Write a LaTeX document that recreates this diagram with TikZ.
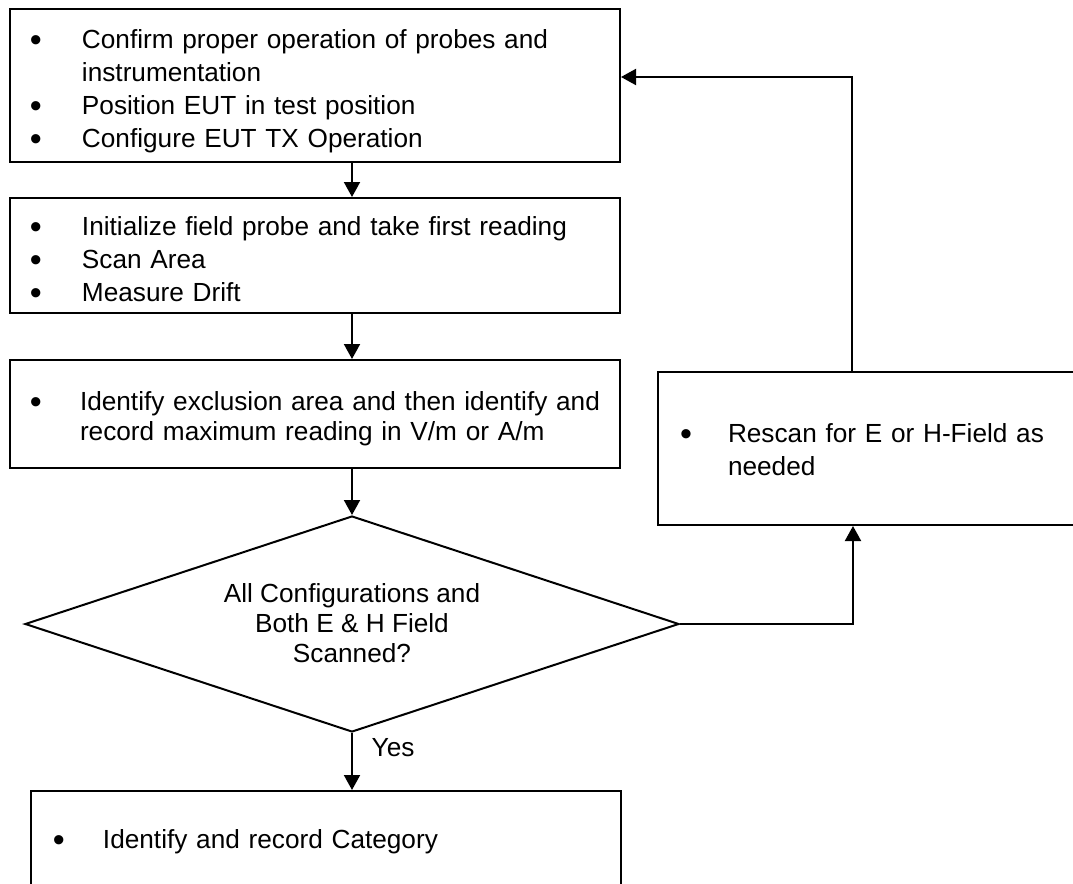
\documentclass[tikz,border=0pt]{standalone}
\usepackage{fontspec}
\setmainfont{Liberation Sans}
\usetikzlibrary{arrows.meta,shapes.geometric,positioning}

\tikzset{
    stepbox/.style={draw, line width=1pt, rectangle, inner ysep=0pt, inner xsep=10pt,
        align=left, font=\fontsize{13.1}{16.5}\selectfont},
    decide/.style={draw, line width=1pt, diamond, aspect=3, inner sep=0pt,
        minimum width=327pt, minimum height=108pt, align=center,
        font=\fontsize{13.1}{15}\selectfont},
    arr/.style={line width=1pt, -{Triangle[length=7.5pt, width=8pt]}},
}

\newcommand{\bl}{\raisebox{-1.6pt}{\scalebox{1.3}{\textbullet}}}
\newcommand{\shiftdown}[2]{\raisebox{-#1}[\height][\depth]{#2}}

\begin{document}
\begin{tikzpicture}[x=0.5pt, y=-0.5pt]
\useasboundingbox (0,0) rectangle (1073,884);
\clip (0,0) rectangle (1073,884);

\node (b1) [stepbox, minimum width=305pt, minimum height=76.5pt, text width=285pt] at (315,85.5)
    {\shiftdown{3pt}{\begin{tabular}{@{}p{26pt}@{}l@{}}
    \bl & Confirm proper operation of probes and\\
        & instrumentation\\
    \bl & Position EUT in test position\\
    \bl & Configure EUT TX Operation
    \end{tabular}}};

\node (b2) [stepbox, minimum width=305pt, minimum height=57.5pt, text width=285pt] at (315,255.5)
    {\shiftdown{3pt}{\begin{tabular}{@{}p{26pt}@{}l@{}}
    \bl & Initialize field probe and take first reading\\
    \bl & Scan Area\\
    \bl & Measure Drift
    \end{tabular}}};

\node (b3) [stepbox, minimum width=305pt, minimum height=54pt, text width=285pt,
    font=\fontsize{13.1}{15}\selectfont] at (315,414)
    {\shiftdown{2.5pt}{\begin{tabular}{@{}p{25pt}@{}l@{}}
    \bl & Identify exclusion area and then identify and\\
        & record maximum reading in V/m or A/m
    \end{tabular}}};

\node (dia) [decide] at (352,624)
    {\shiftdown{1pt}{\begin{tabular}{@{}c@{}}
    All Configurations and\\ Both E \& H Field\\ Scanned?
    \end{tabular}}};

\node (b4) [stepbox, minimum width=295pt, minimum height=51pt, text width=273pt, inner xsep=11pt] at (326,842)
    {\begin{tabular}{@{}p{25pt}@{}l@{}}
    \bl & Identify and record Category
    \end{tabular}};

\node (rescan) [stepbox, minimum width=221pt, minimum height=76.5pt, text width=199pt, inner xsep=11pt] at (879,448.5)
    {\shiftdown{2pt}{\begin{tabular}{@{}p{24pt}@{}l@{}}
    \bl & Rescan for E or H-Field as\\
        & needed
    \end{tabular}}};

% main flow
\foreach \a/\b in {b1/b2, b2/b3}
    \draw [arr] (\a.south -| dia.north) -- (\b.north -| dia.north);
\draw [arr] (b3.south -| dia.north) -- (dia.north);
\draw [arr] (dia.south) -- (dia.south |- b4.north) node[pos=0.25, right=6pt] {\fontsize{13.1}{15}\selectfont Yes};

% loop back
\coordinate (turn) at (853,624);
\coordinate (back) at (852,77);
\draw [arr] (dia.east) -- (turn) -- (turn |- rescan.south);
\draw [arr] (rescan.north -| back) -- (back) -- (back -| b1.east);

\end{tikzpicture}
\end{document}
